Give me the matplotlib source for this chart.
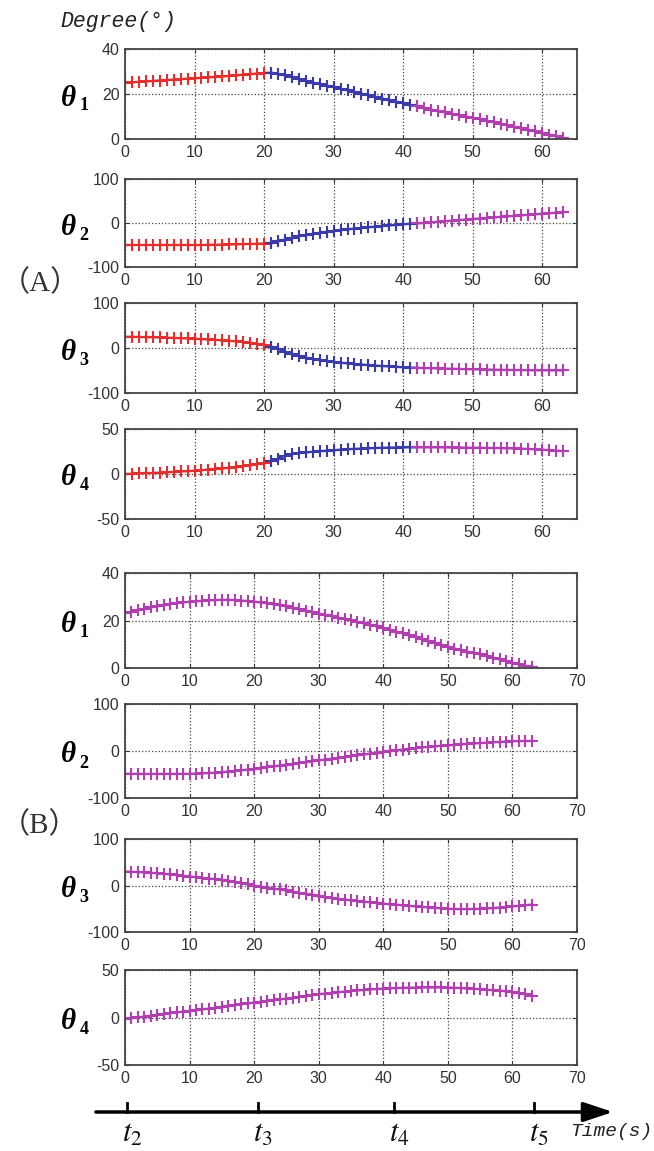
import matplotlib.pyplot as plt
import numpy as np

# ---- data ----
tA_red = list(range(0, 22))
tA_blue = list(range(21, 43))
tA_mag = list(range(42, 64))
tB = list(range(0, 64))

a1_red = [25.0,25.2,25.4,25.6,25.8,26.0,26.2,26.4,26.6,26.8,27.0,27.2,27.4,27.6,27.8,28.0,28.3,28.6,28.9,29.1,29.3,29.5]
a1_blue = [29.5,29.0,28.3,27.5,26.7,25.9,25.1,24.4,23.7,23.0,22.3,21.6,20.9,20.2,19.5,18.8,18.0,17.3,16.6,15.9,15.2,14.5]
a1_mag = [14.5,13.8,13.1,12.5,11.8,11.2,10.6,10.0,9.4,8.8,8.1,7.5,6.8,6.1,5.4,4.7,4.0,3.4,2.7,2.0,1.2,0.5]

a2_red = [-50.0,-50.0,-50.0,-50.0,-50.0,-50.0,-50.0,-50.0,-50.0,-50.0,-50.0,-50.0,-49.8,-49.5,-49.2,-48.8,-48.4,-48.0,-47.6,-47.2,-46.6,-46.0]
a2_blue = [-46.0,-42.0,-37.5,-33.5,-30.0,-27.0,-24.5,-22.2,-20.0,-18.0,-16.2,-14.5,-12.8,-11.2,-9.7,-8.2,-6.8,-5.5,-4.2,-3.0,-1.8,-0.8]
a2_mag = [-0.8,0.2,1.5,2.8,4.0,5.3,6.5,7.8,9.0,10.2,11.4,12.6,13.8,15.0,16.2,17.4,18.6,19.8,21.0,22.2,23.4,24.6]

a3_red = [25.0,24.8,24.5,24.2,23.8,23.4,22.9,22.4,21.8,21.2,20.5,19.7,18.9,18.0,17.0,15.9,14.6,13.1,11.3,9.2,6.0,3.0]
a3_blue = [3.0,-2.0,-8.0,-13.5,-18.0,-21.5,-24.5,-27.0,-29.0,-31.0,-32.7,-34.2,-35.6,-36.9,-38.0,-39.1,-40.1,-41.0,-41.9,-42.7,-43.4,-44.0]
a3_mag = [-44.0,-44.5,-45.0,-45.4,-45.8,-46.2,-46.6,-47.0,-47.3,-47.6,-47.9,-48.2,-48.5,-48.7,-48.9,-49.1,-49.3,-49.5,-49.6,-49.7,-49.8,-49.9]

a4_red = [0.0,0.3,0.6,0.9,1.2,1.5,1.9,2.3,2.8,3.2,3.7,4.3,4.9,5.5,6.2,7.0,7.9,8.8,9.8,10.9,12.5,14.4]
a4_blue = [14.4,17.0,20.5,22.2,23.3,24.0,24.7,25.3,25.9,26.5,27.0,27.5,27.9,28.3,28.6,28.9,29.1,29.3,29.4,29.5,29.6,29.6]
a4_mag = [29.6,29.6,29.6,29.6,29.5,29.5,29.4,29.3,29.2,29.1,29.0,28.9,28.8,28.6,28.4,28.1,27.8,27.4,27.0,26.5,26.0,25.5]

b1 = [23.0,23.7,24.4,25.0,25.5,26.0,26.5,26.9,27.3,27.6,27.9,28.1,28.3,28.5,28.6,28.7,28.7,28.6,28.4,28.2,
      27.9,27.6,27.2,26.8,26.4,25.9,25.4,24.8,24.2,23.6,22.9,22.3,21.8,21.2,20.7,20.1,19.4,18.8,18.1,17.5,
      16.8,16.1,15.3,14.6,13.8,13.1,12.2,11.4,10.5,9.7,8.8,8.2,7.6,6.9,6.3,5.7,5.0,4.3,3.6,2.9,2.1,1.5,0.9,0.4]
b2 = [-48.5,-48.6,-48.7,-48.8,-48.8,-48.8,-48.8,-48.8,-48.7,-48.7,-48.6,-48.2,-47.6,-46.8,-46.0,-45.0,-43.8,-42.4,-41.0,-39.5,
      -38.0,-36.3,-34.6,-32.8,-30.9,-29.0,-27.2,-25.4,-23.6,-21.8,-20.0,-18.2,-16.4,-14.6,-12.8,-11.0,-9.2,-7.4,-5.6,-3.8,
      -2.0,-0.3,1.4,3.1,4.8,6.4,7.6,8.8,9.9,11.0,12.0,13.0,14.0,15.0,16.0,17.0,17.8,18.5,19.2,19.9,20.7,21.0,21.2,21.4]
b3 = [30.0,29.5,28.9,28.2,27.4,26.4,25.2,23.9,22.5,20.9,19.3,17.9,16.5,15.0,13.5,12.0,10.0,7.8,5.4,2.5,
      -0.5,-2.5,-4.5,-6.6,-8.6,-10.7,-13.3,-15.9,-18.5,-21.1,-23.6,-25.4,-27.2,-28.9,-30.5,-32.0,-33.4,-34.8,-36.2,-37.6,
      -39.0,-40.2,-41.4,-42.6,-43.8,-45.0,-46.0,-47.0,-48.0,-49.0,-50.0,-50.5,-50.8,-50.8,-50.5,-50.0,-49.3,-48.5,-47.5,-46.3,
      -45.0,-43.8,-42.5,-41.0]
b4 = [-1.7,-0.8,0.1,1.0,1.9,2.8,3.6,4.5,5.3,6.2,7.0,7.8,8.6,9.4,10.2,11.0,11.9,12.9,13.8,14.8,
      15.7,16.6,17.4,18.3,19.1,20.0,20.9,21.8,22.7,23.6,24.5,25.2,25.9,26.6,27.3,28.0,28.5,29.0,29.5,30.0,
      30.4,30.7,31.0,31.2,31.4,31.5,31.6,31.6,31.6,31.6,31.5,31.3,31.0,30.6,30.2,29.7,29.2,28.7,28.2,27.6,
      27.0,25.8,24.3,22.7]

ylims = [(0, 40), (-100, 100), (-100, 100), (-50, 50)]
t_marks = [0.3, 20.5, 41.6, 63.2]
t_names = ['t_2', 't_3', 't_4', 't_5']

A_red = [a1_red, a2_red, a3_red, a4_red]
A_blue = [a1_blue, a2_blue, a3_blue, a4_blue]
A_mag = [a1_mag, a2_mag, a3_mag, a4_mag]
B_data = [b1, b2, b3, b4]

RED = '#e03030'
BLUE = '#3a3aa8'
MAG = '#b040b0'

W, H = 654, 1151
fig = plt.figure(figsize=(W / 100, H / 100), dpi=100)

# panel pixel extents (top, bottom)
A_pos = [(49, 139), (179, 267), (303, 393), (429, 519)]
B_pos = [(573, 668), (704, 798), (839, 932), (970, 1065)]
left, right = 125, 577


def make_ax(top, bot, xmax, xt):
    ax = fig.add_axes([left / W, 1 - bot / H, (right - left) / W, (bot - top) / H])
    ax.set_xlim(0, xmax)
    ax.set_xticks(xt)
    ax.grid(True, linestyle=':', color='#444444', linewidth=0.9)
    ax.tick_params(direction='in', length=3, top=True, right=True, labelsize=11.5,
                   labelcolor='#333333', color='#333333', pad=4)
    for lab in ax.get_xticklabels():
        lab.set_family('Liberation Sans')
    for s in ax.spines.values():
        s.set_color('#444444')
        s.set_linewidth(1.3)
    return ax


def theta_label(top, bot, k):
    yc = 1 - ((top + bot) / 2 + 4) / H
    fig.text(68 / W, yc, 'θ', ha='center', va='center', fontsize=21,
             family='Liberation Serif', style='italic', weight='bold')
    fig.text(84 / W, yc - 8 / H, str(k), ha='center', va='center', fontsize=13,
             family='Liberation Serif', weight='bold')


kw = dict(marker='+', markersize=8.5, markeredgewidth=1.5, linewidth=1.6)

for i in range(4):
    top, bot = A_pos[i]
    ax = make_ax(top, bot, 65, range(0, 61, 10))
    ax.set_ylim(*ylims[i])
    ax.set_yticks([ylims[i][0], sum(ylims[i]) / 2, ylims[i][1]])
    ax.set_yticklabels([str(int(v)) for v in ax.get_yticks()], family='Liberation Sans')
    ax.plot(tA_red, A_red[i], color=RED, **kw)
    ax.plot(tA_blue, A_blue[i], color=BLUE, **kw)
    ax.plot(tA_mag, A_mag[i], color=MAG, **kw)
    theta_label(top, bot, i + 1)

for i in range(4):
    top, bot = B_pos[i]
    ax = make_ax(top, bot, 70, range(0, 71, 10))
    ax.set_ylim(*ylims[i])
    ax.set_yticks([ylims[i][0], sum(ylims[i]) / 2, ylims[i][1]])
    ax.set_yticklabels([str(int(v)) for v in ax.get_yticks()], family='Liberation Sans')
    ax.plot(tB, B_data[i], color=MAG, **kw)
    theta_label(top, bot, i + 1)

# header texts
fig.text(60 / W, 1 - 21 / H, 'Degree(°)', ha='left', va='center', fontsize=15.5,
         family='Liberation Mono', style='italic', color='#222222')
fig.text(0.5 / W, 1 - 283 / H, '（A）', ha='left', va='center', fontsize=21,
         family=['Liberation Serif', 'Noto Sans CJK SC'], color='#333333')
fig.text(0.5 / W, 1 - 825 / H, '（B）', ha='left', va='center', fontsize=21,
         family=['Liberation Serif', 'Noto Sans CJK SC'], color='#333333')

# time axis with arrow
tax = fig.add_axes([left / W, 1 - 1150 / H, (578 - left) / W, 60 / H])
tax.set_xlim(0, 70)
tax.set_ylim(0, 60)
tax.axis('off')
ay = 1150 - 1112
tax.annotate('', xy=(75.4, ay), xytext=(-4.5, ay), annotation_clip=False,
             arrowprops=dict(arrowstyle='-|>,head_length=0.9,head_width=0.3',
                             lw=2.5, color='black', shrinkA=0, shrinkB=0,
                             mutation_scale=20))
for tm, nm in zip(t_marks, t_names):
    tax.plot([tm, tm], [ay, ay + 9], color='black', lw=2, clip_on=False)
    tax.text(tm + 0.8, ay - 21, '$' + nm + '$', ha='center', va='center',
             fontsize=22, math_fontfamily='stix', color='#111111')
tax.text(68.8, ay - 19, 'Time(s)', ha='left', va='center', fontsize=14,
         family='Liberation Mono', style='italic', color='#222222', clip_on=False)

fig.savefig('out.png', dpi=100)
